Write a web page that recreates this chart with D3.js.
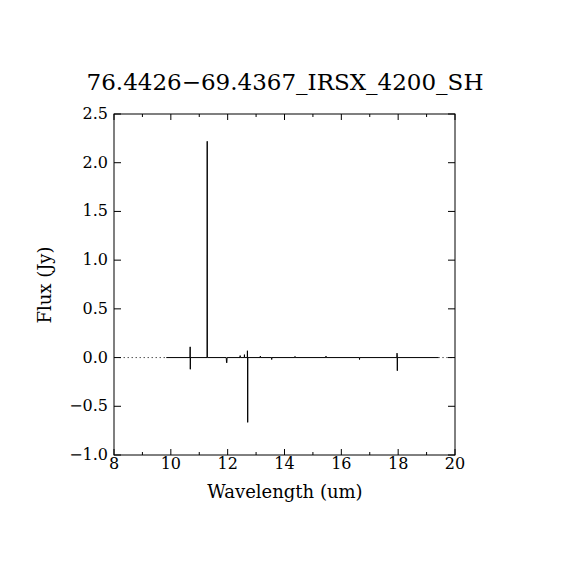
<!DOCTYPE html>
<html>
<head>
<meta charset="utf-8">
<script src="https://cdn.jsdelivr.net/npm/d3@7"></script>
<style>
  body { margin: 0; background: #fff; }
  text { font-family: "DejaVu Serif", serif; fill: #000; }
</style>
</head>
<body>
<svg id="chart" width="570" height="570"></svg>
<script>
var title = "76.4426\u221269.4367_IRSX_4200_SH";
var xLabel = "Wavelength (um)";
var yLabel = "Flux (Jy)";

var xTicks = [8, 10, 12, 14, 16, 18, 20];
var xMinor = [9, 11, 13, 15, 17, 19];
var yTicks = [-1.0, -0.5, 0.0, 0.5, 1.0, 1.5, 2.0, 2.5];

// measured spectrum (mostly flat, a few narrow lines)
var wave = [9.84, 10.675, 10.68, 10.685, 10.69, 11.275, 11.28, 11.285,
            11.95, 11.96, 11.97, 11.98, 12.435, 12.44, 12.445, 12.585, 12.59, 12.595,
            12.69, 12.695, 12.70, 12.705, 12.71, 12.715,
            13.145, 13.15, 13.155, 13.545, 13.55, 13.555, 14.365, 14.37, 14.375,
            15.455, 15.46, 15.465, 16.635, 16.64, 16.645,
            17.955, 17.96, 17.965, 17.97, 17.975, 19.42];
var flux = [0, 0, 0.11, -0.12, 0, 0, 2.22, 0,
            0, -0.05, -0.055, 0, 0, 0.02, 0, 0, 0.03, 0,
            0, 0.07, 0, -0.665, 0, 0,
            0, 0.015, 0, 0, -0.02, 0, 0, 0.012, 0,
            0, 0.015, 0, 0, -0.02, 0,
            0, 0.045, 0.03, -0.135, 0, 0];

// dotted continuation outside the good range
var dotWaveLeft = [8.2, 9.84];
var dotWaveRight = [19.42, 19.95];

var svg = d3.select("#chart"),
    pLeft = 114, pRight = 455, pTop = 114, pBottom = 455;

var x = d3.scaleLinear().domain([8, 20]).range([pLeft, pRight]);
var y = d3.scaleLinear().domain([-1, 2.5]).range([pBottom, pTop]);

var line = d3.line().x(function (d) { return x(d[0]); }).y(function (d) { return y(d[1]); });

// frame
svg.append("rect").attr("x", pLeft).attr("y", pTop)
   .attr("width", pRight - pLeft).attr("height", pBottom - pTop)
   .attr("fill", "none").attr("stroke", "#000").attr("stroke-width", 1);

// ticks, drawn inward on all four sides
var g = svg.append("g").attr("stroke", "#000").attr("stroke-width", 1);
xTicks.forEach(function (t) {
  g.append("line").attr("x1", x(t)).attr("x2", x(t)).attr("y1", pBottom).attr("y2", pBottom - 6);
  g.append("line").attr("x1", x(t)).attr("x2", x(t)).attr("y1", pTop).attr("y2", pTop + 6);
});
xMinor.forEach(function (t) {
  g.append("line").attr("x1", x(t)).attr("x2", x(t)).attr("y1", pBottom).attr("y2", pBottom - 3);
  g.append("line").attr("x1", x(t)).attr("x2", x(t)).attr("y1", pTop).attr("y2", pTop + 3);
});
yTicks.forEach(function (t) {
  g.append("line").attr("x1", pLeft).attr("x2", pLeft + 7).attr("y1", y(t)).attr("y2", y(t));
  g.append("line").attr("x1", pRight).attr("x2", pRight - 7).attr("y1", y(t)).attr("y2", y(t));
});

// tick labels
svg.selectAll(".xl").data(xTicks).enter().append("text")
   .attr("x", function (d) { return x(d); }).attr("y", 469)
   .attr("text-anchor", "middle").attr("font-size", 16)
   .text(function (d) { return d; });

svg.selectAll(".yl").data(yTicks).enter().append("text")
   .attr("x", 108).attr("y", function (d) { return y(d) + 5; })
   .attr("text-anchor", "end").attr("font-size", 16)
   .text(function (d) { return (d < 0 ? "\u2212" : "") + Math.abs(d).toFixed(1); });

// spectrum
var pts = wave.map(function (w, i) { return [w, flux[i]]; });
svg.append("path").datum(pts).attr("d", line)
   .attr("fill", "none").attr("stroke", "#000").attr("stroke-width", 1);

[dotWaveLeft, dotWaveRight].forEach(function (ws) {
  svg.append("path").datum(ws.map(function (w) { return [w, 0]; })).attr("d", line)
     .attr("fill", "none").attr("stroke", "#000").attr("stroke-width", 1)
     .attr("stroke-dasharray", "1,3");
});

// titles
svg.append("text").attr("x", 285).attr("y", 90).attr("text-anchor", "middle")
   .attr("font-size", 23).text(title);
svg.append("text").attr("x", 285).attr("y", 498).attr("text-anchor", "middle")
   .attr("font-size", 18).text(xLabel);
svg.append("text").attr("transform", "translate(51,285) rotate(-90)")
   .attr("text-anchor", "middle").attr("font-size", 18).text(yLabel);
</script>
</body>
</html>
